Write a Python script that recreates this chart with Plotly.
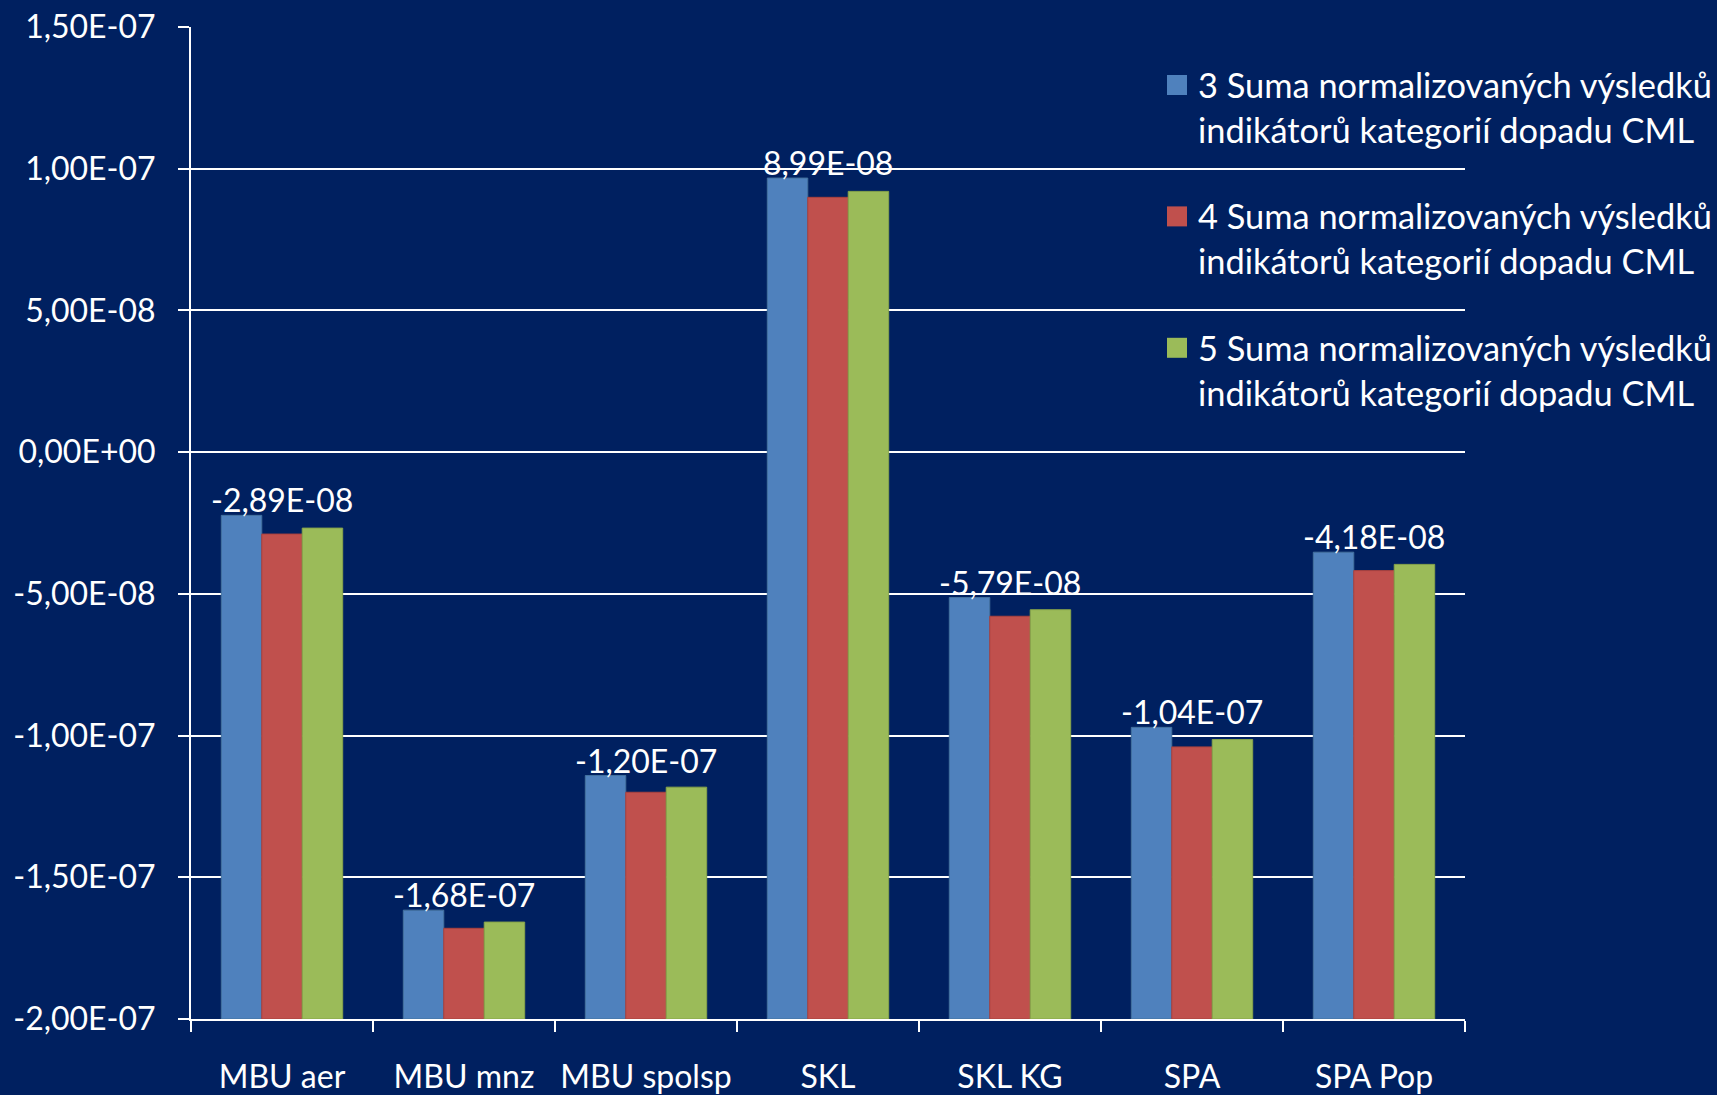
import plotly.graph_objects as go

# Categories and the three series of summed normalised CML indicator results
categories = ["MBU aer", "MBU mnz", "MBU spolsp", "SKL", "SKL KG", "SPA", "SPA Pop"]
series_names = [
    "3 Suma normalizovaných výsledků<br>indikátorů kategorií dopadu CML",
    "4 Suma normalizovaných výsledků<br>indikátorů kategorií dopadu CML",
    "5 Suma normalizovaných výsledků<br>indikátorů kategorií dopadu CML",
]
values_3 = [-2.23e-08, -1.616e-07, -1.141e-07, 9.67e-08, -5.13e-08, -9.71e-08, -3.53e-08]
values_4 = [-2.89e-08, -1.68e-07, -1.20e-07, 8.99e-08, -5.79e-08, -1.04e-07, -4.18e-08]
values_5 = [-2.68e-08, -1.658e-07, -1.182e-07, 9.20e-08, -5.56e-08, -1.014e-07, -3.96e-08]
y_ticks = [1.5e-07, 1.0e-07, 5.0e-08, 0.0, -5.0e-08, -1.0e-07, -1.5e-07, -2.0e-07]

# The category axis crosses the value axis at its minimum, so bars rise from there
AXIS_MIN, AXIS_MAX = -2.0e-07, 1.5e-07

colors = ["#4F81BD", "#C0504D", "#9BBB59"]
edge_colors = ["#44729F", "#A9423F", "#87A44A"]
BG = "#002060"
FONT = "Lato"

W, H = 1717, 1095
M_L, M_R, M_T, M_B = 191, 252, 27, 76


def sci(v):
    """Scientific notation with a decimal comma, e.g. -2,89E-08."""
    return f"{v:.2E}".replace(".", ",")


def px_to_paper_x(px):
    return (px - M_L) / (W - M_L - M_R)


def px_to_paper_y(py):
    return 1 - (py - M_T) / (H - M_T - M_B)


fig = go.Figure()
for name, vals, col, edge in zip(series_names, [values_3, values_4, values_5], colors, edge_colors):
    fig.add_trace(go.Bar(
        x=categories,
        y=[v - AXIS_MIN for v in vals],
        base=AXIS_MIN,
        name=name,
        customdata=vals,
        hovertemplate="%{x}: %{customdata:.2e}<extra></extra>",
        marker=dict(color=col, line=dict(color=edge, width=1)),
        showlegend=False,
    ))

# Value labels: series 4 value, above each group
for cat, v3, v4, v5 in zip(categories, values_3, values_4, values_5):
    fig.add_annotation(
        x=cat, y=max(v3, v4, v5), text=sci(v4),
        xref="x", yref="y", showarrow=False,
        xanchor="center", yanchor="bottom", yshift=-6,
        font=dict(family=FONT, size=32, color="white"),
    )

# Legend block drawn at the right side
legend_text_x = 1196
legend_first_line_y = 84
entry_step = 131.4
line_step = 46
for i, (name, col) in enumerate(zip(series_names, colors)):
    y0 = legend_first_line_y + i * entry_step
    fig.add_shape(
        type="rect", xref="paper", yref="paper",
        x0=px_to_paper_x(1167), x1=px_to_paper_x(1187),
        y0=px_to_paper_y(y0 - 9), y1=px_to_paper_y(y0 + 11),
        fillcolor=col, line=dict(width=0), layer="above",
    )
    fig.add_annotation(
        x=px_to_paper_x(legend_text_x), y=px_to_paper_y(y0 + line_step / 2),
        xref="paper", yref="paper", showarrow=False,
        xanchor="left", yanchor="middle", align="left",
        text=name, font=dict(family=FONT, size=34.4, color="white"),
    )

fig.update_layout(
    width=W, height=H,
    margin=dict(l=M_L, r=M_R, t=M_T, b=M_B, pad=0),
    paper_bgcolor=BG, plot_bgcolor=BG,
    barmode="group", bargap=0.333, bargroupgap=0,
    font=dict(family=FONT, size=32, color="white"),
    showlegend=False,
)
fig.update_xaxes(
    type="category", categoryorder="array", categoryarray=categories,
    showline=True, linecolor="white", linewidth=2,
    ticks="outside", tickson="boundaries", ticklen=11, tickwidth=2, tickcolor="white",
    showgrid=False, ticklabelstandoff=29, tickangle=0, automargin=False,
    tickfont=dict(family=FONT, size=32, color="white"),
)
fig.update_yaxes(
    range=[AXIS_MIN, AXIS_MAX],
    tickmode="array", tickvals=y_ticks, ticktext=[sci(t) for t in y_ticks],
    showline=True, linecolor="white", linewidth=2,
    ticks="outside", ticklen=11, tickwidth=2, tickcolor="white",
    showgrid=True, gridcolor="white", gridwidth=2, zeroline=False,
    ticklabelstandoff=16, automargin=False,
    tickfont=dict(family=FONT, size=32, color="white"),
)

fig.write_html("out.html")
